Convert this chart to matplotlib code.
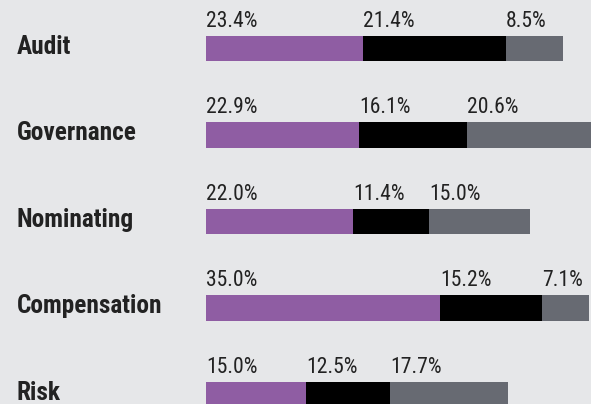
import matplotlib
matplotlib.use("Agg")
import matplotlib.pyplot as plt
import numpy as np

# committee shares, three stacked segments per committee
committees = ["Audit", "Governance", "Nominating", "Compensation", "Risk"]
seg_purple = [23.4, 22.9, 22.0, 35.0, 15.0]
seg_black = [21.4, 16.1, 11.4, 15.2, 12.5]
seg_gray = [8.5, 20.6, 15.0, 7.1, 17.7]

colors = ["#8f5da3", "#000000", "#676a72"]
bg = "#e6e7e9"

plt.rcParams['font.family'] = ['Roboto Condensed', 'DejaVu Sans']

fig = plt.figure(figsize=(5.91, 4.04), dpi=100, facecolor=bg)
ax = fig.add_axes([0, 0, 1, 1])
ax.set_facecolor(bg)

y = np.arange(len(committees))
h = 0.29
left = np.zeros(len(committees))
for vals, c in zip([seg_purple, seg_black, seg_gray], colors):
    vals = np.array(vals)
    ax.barh(y, vals, left=left, height=h, color=c, linewidth=0)
    # value label sits just above the start of each segment
    for yi, l, v in zip(y, left, vals):
        ax.text(l, yi - h / 2 - 0.105, f"{v:.1f}%", ha="left", va="baseline",
                fontsize=15.6, color="#222222")
    left = left + vals

for yi, name in zip(y, committees):
    ax.text(-28.3, yi + 0.06, name, ha="left", va="baseline", fontsize=18.3,
            fontweight="bold", color="#222222")

ax.set_xlim(-30.8, 57.55)
ax.set_ylim(4.11, -0.561)
ax.axis("off")

fig.savefig("out.png", dpi=100, facecolor=bg)
